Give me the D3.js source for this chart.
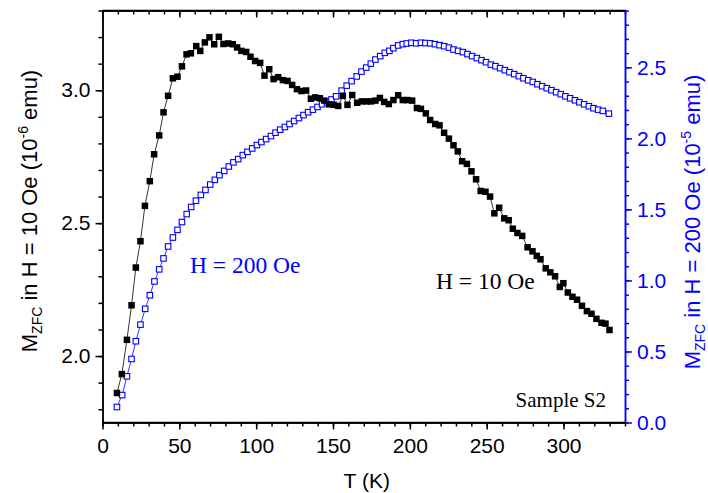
<!DOCTYPE html>
<html><head><meta charset="utf-8">
<script src="https://cdn.jsdelivr.net/npm/d3@7"></script>
<style>html,body{margin:0;padding:0;background:#fff;}svg{display:block;}</style>
</head><body>
<svg id="chart" width="708" height="493"></svg>
<script>
// H = 10 Oe series (left axis, 10^-6 emu)
const T_10 = [9.4,12.6,15.9,18.9,21.7,24.7,27.6,30.8,33.6,36.9,39.7,42.7,45.8,48.8,51.7,54.7,57.5,61.0,63.6,66.6,69.6,72.7,75.7,78.7,81.8,84.8,87.6,90.4,93.5,96.3,99.3,102.6,105.4,108.5,111.3,114.3,117.4,120.4,123.4,126.5,129.5,132.5,135.6,138.4,141.4,144.4,147.5,150.4,153.4,156.4,159.4,162.5,165.7,168.8,172.0,174.8,177.6,180.5,183.3,186.3,189.3,192.4,195.4,198.4,201.5,204.6,207.2,210.4,213.2,216.5,219.3,222.3,225.4,228.4,231.2,234.0,237.1,240.1,243.1,246.1,249.2,252.2,255.0,258.1,261.4,264.3,267.0,270.0,273.1,276.6,279.8,282.6,285.0,288.4,291.4,294.5,297.6,299.9,302.8,305.8,308.8,312.0,315.2,318.2,321.4,324.7,327.3,329.9];
const M_10 = [1.861,1.932,2.061,2.191,2.333,2.432,2.565,2.658,2.759,2.830,2.917,2.979,3.045,3.051,3.090,3.135,3.139,3.166,3.148,3.180,3.199,3.173,3.201,3.174,3.176,3.173,3.161,3.148,3.144,3.126,3.110,3.103,3.055,3.079,3.042,3.049,3.038,3.035,3.020,3.004,2.997,2.999,2.968,2.973,2.970,2.961,2.947,2.945,2.941,2.979,2.945,2.982,2.953,2.958,2.958,2.958,2.961,2.971,2.956,2.948,2.963,2.981,2.963,2.963,2.961,2.933,2.930,2.913,2.888,2.873,2.868,2.840,2.818,2.793,2.770,2.733,2.723,2.695,2.665,2.621,2.618,2.600,2.537,2.558,2.518,2.511,2.479,2.463,2.452,2.409,2.394,2.377,2.364,2.330,2.315,2.300,2.260,2.274,2.239,2.223,2.212,2.189,2.169,2.159,2.140,2.125,2.122,2.098];
// H = 200 Oe series (right axis, 10^-5 emu)
const T_200 = [9.4,12.8,15.9,18.9,21.7,24.7,27.8,30.8,33.8,36.9,39.7,42.7,45.8,48.8,51.7,54.8,57.7,60.8,64.0,67.0,70.1,73.1,76.1,79.2,82.2,85.2,88.3,91.3,94.3,97.4,100.5,103.4,106.5,109.6,112.6,115.6,118.7,121.7,124.7,127.8,130.8,133.8,136.9,139.9,142.9,146.0,149.0,152.0,155.6,158.9,162.1,165.4,168.5,171.6,174.6,177.6,180.7,183.7,186.7,189.3,192.4,195.4,198.0,201.0,204.1,207.2,210.1,213.2,216.3,219.3,222.3,225.4,228.4,231.4,234.5,237.5,240.5,243.6,246.6,249.6,252.7,255.7,258.7,261.8,264.8,267.9,270.9,273.9,277.0,280.0,283.0,286.1,289.1,292.1,295.2,298.2,301.2,304.3,307.4,310.3,313.4,316.5,319.5,322.5,325.6,329.5];
const M_200 = [0.109,0.193,0.325,0.447,0.572,0.689,0.800,0.896,0.993,1.078,1.155,1.239,1.302,1.356,1.411,1.467,1.517,1.561,1.602,1.637,1.675,1.708,1.741,1.771,1.802,1.831,1.854,1.882,1.905,1.929,1.953,1.974,1.995,2.016,2.040,2.061,2.080,2.101,2.122,2.143,2.164,2.184,2.202,2.221,2.240,2.254,2.274,2.296,2.336,2.371,2.403,2.436,2.470,2.498,2.526,2.555,2.579,2.602,2.616,2.635,2.654,2.663,2.668,2.673,2.669,2.673,2.671,2.669,2.663,2.656,2.649,2.639,2.625,2.616,2.607,2.593,2.579,2.565,2.550,2.536,2.519,2.508,2.494,2.480,2.466,2.452,2.438,2.423,2.409,2.397,2.381,2.367,2.353,2.339,2.325,2.311,2.296,2.282,2.268,2.254,2.240,2.226,2.212,2.202,2.193,2.174];

const xMajorTicks = [0,50,100,150,200,250,300];
const xMinorTicks = [0,10,20,30,40,50,60,70,80,90,100,110,120,130,140,150,160,170,180,190,200,210,220,230,240,250,260,270,280,290,300,310,320,330,340];
const yLeftMajorTicks = [2.0,2.5,3.0];
const yLeftMinorTicks = [1.8,1.9,2.0,2.1,2.2,2.3,2.4,2.5,2.6,2.7,2.8,2.9,3.0,3.1,3.2,3.3];
const yRightMajorTicks = [0.0,0.5,1.0,1.5,2.0,2.5];
const yRightMinorTicks = [0.0,0.1,0.2,0.3,0.4,0.5,0.6,0.7,0.8,0.9,1.0,1.1,1.2,1.3,1.4,1.5,1.6,1.7,1.8,1.9,2.0,2.1,2.2,2.3,2.4,2.5,2.6,2.7,2.8,2.9];

const BLUE = "#0000ff";
const SANS = "'Liberation Sans', Arial, Helvetica, sans-serif";
const SERIF = "'Liberation Serif', 'Times New Roman', serif";

const svg = d3.select("#chart");
const L = 102.5, R = 625, Tp = 10.5, B = 422.5;

const x = d3.scaleLinear().domain([0, 340]).range([L, R]);
const yL = d3.scaleLinear().domain([1.75, 3.3]).range([B, Tp]);
const yR = d3.scaleLinear().domain([0, 2.9]).range([B, Tp]);

function styleAxis(g, color, w) {
  g.select(".domain").attr("stroke", color).attr("stroke-width", w);
  g.selectAll(".tick line").attr("stroke", color).attr("stroke-width", 1.5);
}

// bottom axis
const gxMinor = svg.append("g").attr("transform", `translate(0,${B})`)
  .call(d3.axisBottom(x).tickValues(xMinorTicks).tickSize(4).tickFormat("").tickSizeOuter(0));
styleAxis(gxMinor, "#000", 1.5);
const gx = svg.append("g").attr("transform", `translate(0,${B})`)
  .call(d3.axisBottom(x).tickValues(xMajorTicks).tickSize(7).tickPadding(9).tickFormat(d3.format("d")).tickSizeOuter(0));
styleAxis(gx, "#000", 1.5);
gx.selectAll("text").attr("font-family", SANS).attr("font-size", 21).attr("fill", "#000");

// top axis (inward ticks)
const gtMinor = svg.append("g").attr("transform", `translate(0,${Tp})`)
  .call(d3.axisBottom(x).tickValues(xMinorTicks).tickSize(4).tickFormat("").tickSizeOuter(0));
styleAxis(gtMinor, "#000", 1.5);
const gt = svg.append("g").attr("transform", `translate(0,${Tp})`)
  .call(d3.axisBottom(x).tickValues(xMajorTicks).tickSize(7).tickFormat("").tickSizeOuter(0));
styleAxis(gt, "#000", 1.5);

// left axis
const glMinor = svg.append("g").attr("transform", `translate(${L},0)`)
  .call(d3.axisLeft(yL).tickValues(yLeftMinorTicks).tickSize(4).tickFormat("").tickSizeOuter(0));
styleAxis(glMinor, "#000", 1.5);
const gl = svg.append("g").attr("transform", `translate(${L},0)`)
  .call(d3.axisLeft(yL).tickValues(yLeftMajorTicks).tickSize(7).tickPadding(5).tickFormat(d3.format(".1f")).tickSizeOuter(0));
styleAxis(gl, "#000", 1.5);
gl.selectAll("text").attr("font-family", SANS).attr("font-size", 21).attr("fill", "#000");

// right axis (blue)
const grMinor = svg.append("g").attr("transform", `translate(${R},0)`)
  .call(d3.axisRight(yR).tickValues(yRightMinorTicks).tickSize(4).tickFormat("").tickSizeOuter(0));
styleAxis(grMinor, BLUE, 1.5);
const gr = svg.append("g").attr("transform", `translate(${R},0)`)
  .call(d3.axisRight(yR).tickValues(yRightMajorTicks).tickSize(7).tickPadding(5).tickFormat(d3.format(".1f")).tickSizeOuter(0));
styleAxis(gr, BLUE, 1.5);
gr.selectAll("text").attr("font-family", SANS).attr("font-size", 21).attr("fill", BLUE);

// corner extensions of black frame to the blue axis
svg.append("line").attr("x1", x(0)).attr("x2", R + 1).attr("y1", Tp).attr("y2", Tp).attr("stroke", "#000").attr("stroke-width", 1.5);
svg.append("line").attr("x1", x(0)).attr("x2", R + 1).attr("y1", B).attr("y2", B).attr("stroke", "#000").attr("stroke-width", 1.5);

const d10 = T_10.map((t, i) => ({t, m: M_10[i]}));
const d200 = T_200.map((t, i) => ({t, m: M_200[i]}));

svg.append("path").datum(d200)
  .attr("fill", "none").attr("stroke", BLUE).attr("stroke-width", 0.8)
  .attr("d", d3.line().x(d => x(d.t)).y(d => yR(d.m)));
svg.append("path").datum(d10)
  .attr("fill", "none").attr("stroke", "#000").attr("stroke-width", 0.8)
  .attr("d", d3.line().x(d => x(d.t)).y(d => yL(d.m)));

const sb = 5.5;
svg.append("g").selectAll("rect").data(d200).join("rect")
  .attr("x", d => x(d.t) - sb / 2).attr("y", d => yR(d.m) - sb / 2)
  .attr("width", sb).attr("height", sb)
  .attr("fill", "#fff").attr("stroke", BLUE).attr("stroke-width", 1.1);

const sk = 6.5;
svg.append("g").selectAll("rect").data(d10).join("rect")
  .attr("x", d => x(d.t) - sk / 2).attr("y", d => yL(d.m) - sk / 2)
  .attr("width", sk).attr("height", sk).attr("fill", "#000");

// annotations
svg.append("text").attr("x", 190).attr("y", 273).attr("font-family", SERIF).attr("font-size", 23.5)
  .attr("fill", BLUE).text("H = 200 Oe");
svg.append("text").attr("x", 436).attr("y", 289).attr("font-family", SERIF).attr("font-size", 23.5)
  .attr("fill", "#000").text("H = 10 Oe");
svg.append("text").attr("x", 606).attr("y", 407).attr("text-anchor", "end").attr("font-family", SERIF).attr("font-size", 21)
  .attr("fill", "#000").text("Sample S2");

// x title
svg.append("text").attr("x", (L + R) / 2 + 3).attr("y", 488).attr("text-anchor", "middle")
  .attr("font-family", SANS).attr("font-size", 21).attr("fill", "#000").text("T (K)");

function yTitle(tx, ty, color, field, exp) {
  const t = svg.append("text").attr("transform", `translate(${tx},${ty}) rotate(-90)`)
    .attr("text-anchor", "middle").attr("font-family", SANS).attr("font-size", 22).attr("fill", color);
  t.append("tspan").text("M");
  t.append("tspan").attr("font-size", 14).attr("dy", 5).text("ZFC");
  t.append("tspan").attr("dy", -5).text(" in H = " + field + " Oe (10");
  t.append("tspan").attr("font-size", 14).attr("dy", -9).text(exp);
  t.append("tspan").attr("dy", 9).text(" emu)");
}
yTitle(37, 211, "#000", "10", "-6");
yTitle(700, 222, BLUE, "200", "-5");
</script>
</body></html>
